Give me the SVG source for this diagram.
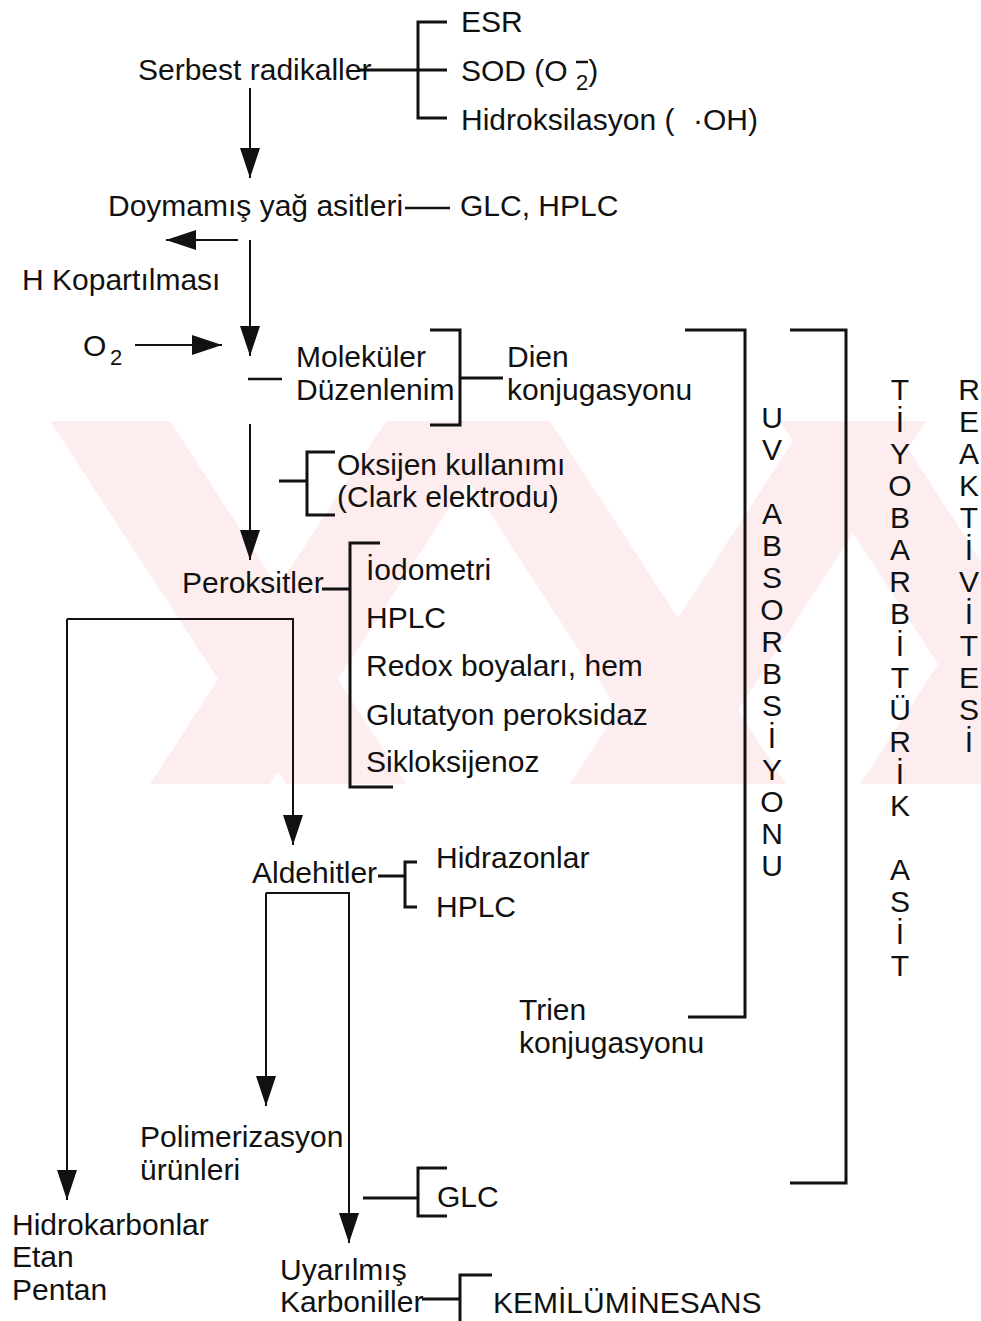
<svg xmlns="http://www.w3.org/2000/svg" width="981" height="1321" viewBox="0 0 981 1321">
<style>
text{font-family:"Liberation Sans",Arial,sans-serif;font-size:30px;fill:#111}
.sub{font-size:22px}
.col{text-anchor:middle}
.ln{stroke:#111;stroke-width:2.5;fill:none}
.br{stroke:#111;stroke-width:3;fill:none}
.ar{stroke:#111;stroke-width:2;fill:none;marker-end:url(#ah)}
.wm{fill:#feedef}
</style>
<defs>
<marker id="ah" markerUnits="userSpaceOnUse" markerWidth="30" markerHeight="22" refX="30" refY="10" orient="auto" viewBox="0 0 30 20">
<path d="M0,0 L30,10 L0,20 z" fill="#111"/>
</marker>
<clipPath id="band"><rect x="52" y="421" width="929" height="363"/></clipPath>
</defs>
<rect width="981" height="1321" fill="#fff"/>
<g id="watermark" clip-path="url(#band)">
<polygon class="wm" points="50,421 170,421 406,784 286,784"/>
<polygon class="wm" points="430,421 550,421 786,784 666,784"/>
<polygon class="wm" points="780,421 890,421 1126,784 1016,784"/>
<polygon class="wm" points="150,784 270,784 506,421 386,421"/>
<polygon class="wm" points="570,784 690,784 926,421 806,421"/>
<polygon class="wm" points="860,784 980,784 1216,421 1096,421"/>
</g>
<g id="connectors">
<line class="ar" x1="250" y1="88" x2="250" y2="178"/>
<line class="ar" x1="250" y1="240" x2="250" y2="356"/>
<line class="ar" x1="238" y1="240" x2="166" y2="240"/>
<line class="ar" x1="135" y1="345" x2="222" y2="345"/>
<line class="ar" x1="250" y1="424" x2="250" y2="560"/>
<path class="ar" d="M67,619 H293 V845"/>
<path class="ar" d="M67,619 V1200"/>
<path class="ar" d="M266,893 H349 V1243"/>
<path class="ar" d="M266,893 V1106"/>
</g>
<g id="serbest">
<text x="138" y="80">Serbest radikaller</text>
<path class="br" d="M358,70 H447 M447,22 H418 V118 H447"/>
</g>
<g id="esr"><text x="461" y="32">ESR</text></g>
<g id="sod"><text x="461" y="81">SOD (O <tspan class="sub" dy="9">2</tspan><tspan dy="-9">)</tspan></text><line class="ln" x1="576" y1="62" x2="588" y2="62"/></g>
<g id="hidroks"><text x="461" y="130">Hidroksilasyon (<tspan x="693">·OH)</tspan></text></g>
<g id="doymamis">
<text x="108" y="216">Doymamış yağ asitleri</text>
<line class="ln" x1="405" y1="208" x2="450" y2="208"/>
<text x="460" y="216">GLC, HPLC</text>
</g>
<g id="hkop"><text x="22" y="290">H Kopartılması</text></g>
<g id="o2"><text x="83" y="356">O<tspan class="sub" x="110" dy="9">2</tspan></text></g>
<g id="molekuler">
<line class="ln" x1="248" y1="379" x2="282" y2="379"/>
<text x="296" y="367">Moleküler</text>
<text x="296" y="400">Düzenlenim</text>
<path class="br" d="M430,330 H460 V425 H430 M460,378 H503"/>
<text x="507" y="367">Dien</text>
<text x="507" y="400">konjugasyonu</text>
</g>
<g id="oksijen">
<path class="br" d="M279,481 H307 M335,452 H307 V515 H335"/>
<text x="337" y="475">Oksijen kullanımı</text>
<text x="337" y="507">(Clark elektrodu)</text>
</g>
<g id="peroksitler">
<text x="182" y="593">Peroksitler</text>
<path class="br" d="M322,589 H350 M380,543 H350 V787 H393"/>
<text x="366" y="580">İodometri</text>
<text x="366" y="628">HPLC</text>
<text x="366" y="676">Redox boyaları, hem</text>
<text x="366" y="725">Glutatyon peroksidaz</text>
<text x="366" y="772">Sikloksijenoz</text>
</g>
<g id="aldehitler">
<text x="252" y="883">Aldehitler</text>
<path class="br" d="M378,876 H405 M417,862 H405 V907 H417"/>
<text x="436" y="868">Hidrazonlar</text>
<text x="436" y="917">HPLC</text>
</g>
<g id="uv">
<path class="br" d="M685,330 H745 V1017 H688"/>
<text x="519" y="1020">Trien</text>
<text x="519" y="1053">konjugasyonu</text>
<text class="col" x="772" y="428">U</text>
<text class="col" x="772" y="460">V</text>
<text class="col" x="772" y="524">A</text>
<text class="col" x="772" y="556">B</text>
<text class="col" x="772" y="588">S</text>
<text class="col" x="772" y="620">O</text>
<text class="col" x="772" y="652">R</text>
<text class="col" x="772" y="684">B</text>
<text class="col" x="772" y="716">S</text>
<text class="col" x="772" y="748">İ</text>
<text class="col" x="772" y="780">Y</text>
<text class="col" x="772" y="812">O</text>
<text class="col" x="772" y="844">N</text>
<text class="col" x="772" y="876">U</text>
</g>
<g id="tba">
<path class="br" d="M790,330 H846 V1183 H790"/>
<text class="col" x="900" y="400">T</text>
<text class="col" x="900" y="432">İ</text>
<text class="col" x="900" y="464">Y</text>
<text class="col" x="900" y="496">O</text>
<text class="col" x="900" y="528">B</text>
<text class="col" x="900" y="560">A</text>
<text class="col" x="900" y="592">R</text>
<text class="col" x="900" y="624">B</text>
<text class="col" x="900" y="656">İ</text>
<text class="col" x="900" y="688">T</text>
<text class="col" x="900" y="720">Ü</text>
<text class="col" x="900" y="752">R</text>
<text class="col" x="900" y="784">İ</text>
<text class="col" x="900" y="816">K</text>
<text class="col" x="900" y="880">A</text>
<text class="col" x="900" y="912">S</text>
<text class="col" x="900" y="944">İ</text>
<text class="col" x="900" y="976">T</text>
</g>
<g id="reaktivite">
<text class="col" x="969" y="400">R</text>
<text class="col" x="969" y="432">E</text>
<text class="col" x="969" y="464">A</text>
<text class="col" x="969" y="496">K</text>
<text class="col" x="969" y="528">T</text>
<text class="col" x="969" y="560">İ</text>
<text class="col" x="969" y="592">V</text>
<text class="col" x="969" y="624">İ</text>
<text class="col" x="969" y="656">T</text>
<text class="col" x="969" y="688">E</text>
<text class="col" x="969" y="720">S</text>
<text class="col" x="969" y="752">İ</text>
</g>
<g id="polimer">
<text x="140" y="1147">Polimerizasyon</text>
<text x="140" y="1180">ürünleri</text>
</g>
<g id="glc">
<path class="br" d="M363,1198 H418 M447,1168 H418 V1216 H447"/>
<text x="437" y="1207">GLC</text>
</g>
<g id="hidrokarbon">
<text x="12" y="1235">Hidrokarbonlar</text>
<text x="12" y="1267">Etan</text>
<text x="12" y="1300">Pentan</text>
</g>
<g id="uyarilmis">
<text x="280" y="1280">Uyarılmış</text>
<text x="280" y="1312">Karboniller</text>
<path class="br" d="M422,1299 H460 M492,1275 H460 V1321"/>
<text x="493" y="1313">KEMİLÜMİNESANS</text>
</g>
</svg>
